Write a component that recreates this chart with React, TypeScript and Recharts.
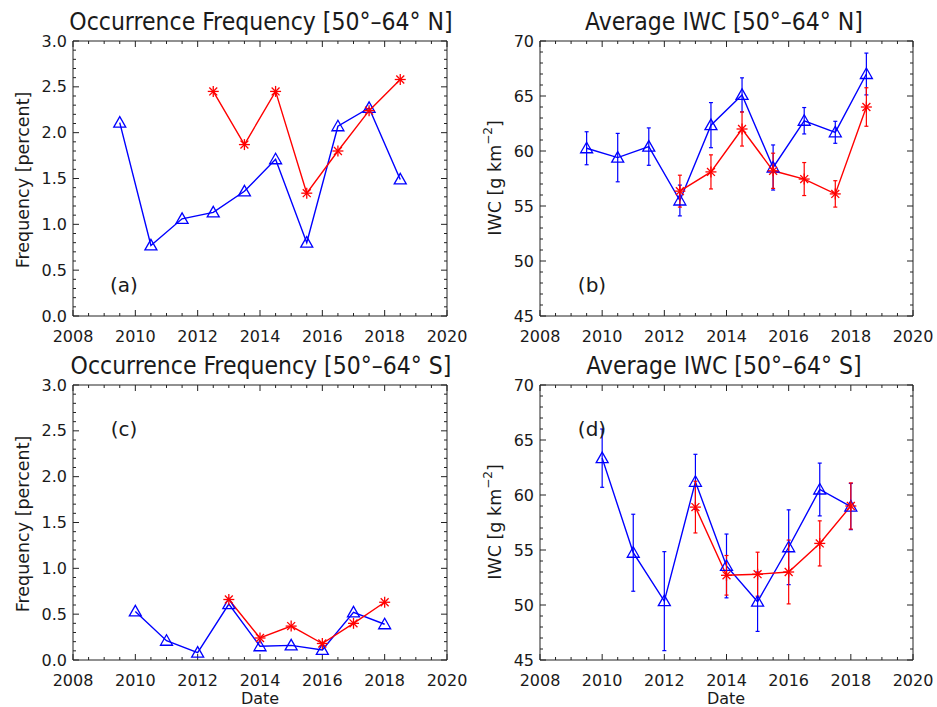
import React from 'react';
import { ComposedChart, Line, Scatter, XAxis, YAxis, ErrorBar, ReferenceArea } from 'recharts';

// Northern band: yearly points at mid-year
const YEARS_N = [2009.5, 2010.5, 2011.5, 2012.5, 2013.5, 2014.5, 2015.5, 2016.5, 2017.5, 2018.5];
const YEARS_N_RED = [2012.5, 2013.5, 2014.5, 2015.5, 2016.5, 2017.5, 2018.5];
// Southern band: points at the start of the year
const YEARS_S = [2010, 2011, 2012, 2013, 2014, 2015, 2016, 2017, 2018];
const YEARS_S_RED = [2013, 2014, 2015, 2016, 2017, 2018];

const FREQ_N_BLUE = [2.11, 0.77, 1.06, 1.13, 1.36, 1.71, 0.8, 2.07, 2.27, 1.49];
const FREQ_N_RED = [2.45, 1.87, 2.45, 1.34, 1.8, 2.24, 2.58];

const IWC_N_BLUE = [60.25, 59.4, 60.4, 55.5, 62.35, 65.1, 58.5, 62.75, 61.7, 67.0];
const IWC_N_BLUE_ERR = [1.5, 2.2, 1.7, 1.4, 2.05, 1.55, 2.05, 1.2, 1.0, 1.9];
const IWC_N_RED = [56.35, 58.1, 62.0, 58.2, 57.45, 56.1, 64.0];
const IWC_N_RED_ERR = [1.45, 1.55, 1.55, 1.6, 1.5, 1.2, 1.75];

const FREQ_S_BLUE = [0.53, 0.21, 0.08, 0.61, 0.15, 0.16, 0.11, 0.52, 0.39];
const FREQ_S_RED = [0.66, 0.24, 0.37, 0.18, 0.4, 0.63];

const IWC_S_BLUE = [63.35, 54.75, 50.35, 61.2, 53.55, 50.3, 55.25, 60.5, 58.95];
const IWC_S_BLUE_ERR = [2.65, 3.5, 4.5, 2.5, 2.9, 2.7, 3.4, 2.4, 2.1];
const IWC_S_RED = [58.9, 52.7, 52.8, 53.0, 55.6, 59.0];
const IWC_S_RED_ERR = [2.35, 1.8, 2.0, 2.9, 2.05, 2.1];

const X_LABELS = [2008, 2010, 2012, 2014, 2016, 2018, 2020];
const FREQ_LABELS = [0, 0.5, 1.0, 1.5, 2.0, 2.5, 3.0];
const IWC_LABELS = [45, 50, 55, 60, 65, 70];

const BLUE = '#0000ff';
const RED = '#ff0000';
const AXIS = '#222';
const TEXT = '#1a1a1a';
const FONT = "'DejaVu Sans', sans-serif";
const TITLE_FONT = "'DejaVu Sans Condensed', 'DejaVu Sans', sans-serif";

const H = 350;
const PLOT_TOP = 41;
const Y_AXIS_W = 73;
const X_AXIS_H = 34;
const MAJOR_LEN = 6;
const MINOR_LEN = 3;

// major ticks plus `sub`-1 minor ticks inside each major interval
const withMinor = (major: number[], sub: number) => {
  const out = major.map((t) => ({ t, major: true }));
  for (let i = 0; i < major.length - 1; i++) {
    const step = (major[i + 1] - major[i]) / sub;
    for (let k = 1; k < sub; k++) out.push({ t: Math.round((major[i] + k * step) * 1000) / 1000, major: false });
  }
  return out;
};

const zip = (xs: number[], vs: number[], es?: number[]) =>
  xs.map((year, i) => ({ year, v: vs[i], e: es ? es[i] : 0 }));

const Triangle = ({ cx, cy }: any) => (
  <polygon
    points={`${cx},${cy - 6} ${cx - 6},${cy + 4.5} ${cx + 6},${cy + 4.5}`}
    fill="none"
    stroke={BLUE}
    strokeWidth={1.3}
  />
);

const Asterisk = ({ cx, cy }: any) => {
  const r = 5.5;
  const d = r * 0.72;
  return (
    <g stroke={RED} strokeWidth={1.3}>
      <line x1={cx - r} y1={cy} x2={cx + r} y2={cy} />
      <line x1={cx} y1={cy - r} x2={cx} y2={cy + r} />
      <line x1={cx - d} y1={cy - d} x2={cx + d} y2={cy + d} />
      <line x1={cx - d} y1={cy + d} x2={cx + d} y2={cy - d} />
    </g>
  );
};

// inward tick mark drawn at a frame position
const tickShape = (dx: number, dy: number) => (p: any) => {
  const len = p.payload.major ? MAJOR_LEN : MINOR_LEN;
  return <path d={`M${p.cx},${p.cy}l${dx * len},${dy * len}`} stroke={AXIS} strokeWidth={1} fill="none" />;
};

interface PanelProps {
  left: number;
  top: number;
  width: number;
  rightGap: number;
  blue: { year: number; v: number; e: number }[];
  red: { year: number; v: number; e: number }[];
  yMajor: number[];
  ySub: number;
  fmt: (v: number) => string;
  errors?: boolean;
}

const Panel = ({ left, top, width, rightGap, blue, red, yMajor, ySub, fmt, errors }: PanelProps) => {
  const yDomain = [yMajor[0], yMajor[yMajor.length - 1]];
  const xDomain = [X_LABELS[0], X_LABELS[X_LABELS.length - 1]];
  const xAll = withMinor(X_LABELS, 4);
  const yAll = withMinor(yMajor, ySub);

  const bottomTicks = xAll.map(({ t, major }) => ({ year: t, v: yDomain[0], major }));
  const topTicks = xAll.map(({ t, major }) => ({ year: t, v: yDomain[1], major }));
  const leftTicks = yAll.map(({ t, major }) => ({ year: xDomain[0], v: t, major }));
  const rightTicks = yAll.map(({ t, major }) => ({ year: xDomain[1], v: t, major }));

  const bottomLabel = ({ x, y, payload }: any) => (
    <text x={x} y={y + 26} textAnchor="middle" fontSize={16} fontFamily={FONT} fill={TEXT}>
      {payload.value}
    </text>
  );
  const leftLabel = ({ x, y, payload }: any) => (
    <text x={x - 6} y={y} textAnchor="end" dominantBaseline="central" fontSize={16} fontFamily={FONT} fill={TEXT}>
      {fmt(payload.value)}
    </text>
  );

  return (
    <div style={{ position: 'absolute', left, top }}>
      <ComposedChart width={width} height={H} margin={{ top: PLOT_TOP, right: rightGap, bottom: 0, left: 0 }}>
        <XAxis
          type="number"
          dataKey="year"
          domain={xDomain}
          ticks={X_LABELS}
          interval={0}
          height={X_AXIS_H}
          tickSize={0}
          tickMargin={0}
          tickLine={false}
          axisLine={false}
          tick={bottomLabel}
        />
        <YAxis
          type="number"
          domain={yDomain}
          ticks={yMajor}
          interval={0}
          width={Y_AXIS_W}
          tickSize={0}
          tickMargin={0}
          tickLine={false}
          axisLine={false}
          tick={leftLabel}
        />
        <ReferenceArea
          x1={xDomain[0]}
          x2={xDomain[1]}
          y1={yDomain[0]}
          y2={yDomain[1]}
          fill="none"
          stroke={AXIS}
          strokeWidth={1}
          ifOverflow="visible"
        />
        <Scatter data={bottomTicks} dataKey="v" shape={tickShape(0, -1)} isAnimationActive={false} />
        <Scatter data={topTicks} dataKey="v" shape={tickShape(0, 1)} isAnimationActive={false} />
        <Scatter data={leftTicks} dataKey="v" shape={tickShape(1, 0)} isAnimationActive={false} />
        <Scatter data={rightTicks} dataKey="v" shape={tickShape(-1, 0)} isAnimationActive={false} />
        <Line
          data={blue}
          dataKey="v"
          type="linear"
          stroke={BLUE}
          strokeWidth={1.4}
          isAnimationActive={false}
          dot={(p: any) => <Triangle key={`bd-${p.index}`} cx={p.cx} cy={p.cy} />}
        >
          {errors && <ErrorBar dataKey="e" direction="y" width={2} stroke={BLUE} strokeWidth={1.2} />}
        </Line>
        <Line
          data={red}
          dataKey="v"
          type="linear"
          stroke={RED}
          strokeWidth={1.4}
          isAnimationActive={false}
          dot={(p: any) => <Asterisk key={`rd-${p.index}`} cx={p.cx} cy={p.cy} />}
        >
          {errors && <ErrorBar dataKey="e" direction="y" width={2} stroke={RED} strokeWidth={1.2} />}
        </Line>
      </ComposedChart>
    </div>
  );
};

const freqFmt = (v: number) => v.toFixed(1);
const iwcFmt = (v: number) => String(v);

const Title = ({ x, y, children }: any) => (
  <text x={x} y={y} textAnchor="middle" fontSize={24.5} fontFamily={TITLE_FONT} style={{ fontStretch: 'condensed' }} fill={TEXT}>
    {children}
  </text>
);

const AxisTitle = ({ x, y, children }: any) => (
  <text
    x={x}
    y={y}
    transform={`rotate(-90 ${x} ${y})`}
    textAnchor="middle"
    dominantBaseline="central"
    fontSize={17.5}
    fontFamily={FONT}
    fill={TEXT}
  >
    {children}
  </text>
);

const Tag = ({ x, y, children }: any) => (
  <text x={x} y={y} textAnchor="middle" dominantBaseline="central" fontSize={20} fontFamily={FONT} fill={TEXT}>
    {children}
  </text>
);

const IwcLabel = () => (
  <>
    IWC [g km<tspan dy={-7} fontSize={12}>−2</tspan>
    <tspan dy={7}>]</tspan>
  </>
);

export default function App() {
  return (
    <div style={{ position: 'absolute', left: 0, top: 0, width: 937, height: 707, background: '#fff' }}>
      <Panel
        left={0}
        top={0}
        width={468}
        rightGap={21}
        blue={zip(YEARS_N, FREQ_N_BLUE)}
        red={zip(YEARS_N_RED, FREQ_N_RED)}
        yMajor={FREQ_LABELS}
        ySub={5}
        fmt={freqFmt}
      />
      <Panel
        left={467}
        top={0}
        width={468}
        rightGap={22}
        blue={zip(YEARS_N, IWC_N_BLUE, IWC_N_BLUE_ERR)}
        red={zip(YEARS_N_RED, IWC_N_RED, IWC_N_RED_ERR)}
        yMajor={IWC_LABELS}
        ySub={5}
        fmt={iwcFmt}
        errors
      />
      <Panel
        left={0}
        top={344}
        width={468}
        rightGap={21}
        blue={zip(YEARS_S, FREQ_S_BLUE)}
        red={zip(YEARS_S_RED, FREQ_S_RED)}
        yMajor={FREQ_LABELS}
        ySub={5}
        fmt={freqFmt}
      />
      <Panel
        left={467}
        top={344}
        width={468}
        rightGap={22}
        blue={zip(YEARS_S, IWC_S_BLUE, IWC_S_BLUE_ERR)}
        red={zip(YEARS_S_RED, IWC_S_RED, IWC_S_RED_ERR)}
        yMajor={IWC_LABELS}
        ySub={5}
        fmt={iwcFmt}
        errors
      />
      <svg width={937} height={707} style={{ position: 'absolute', left: 0, top: 0, pointerEvents: 'none' }}>
        <Title x={261} y={30}>Occurrence Frequency [50°–64° N]</Title>
        <Title x={724} y={30}>Average IWC [50°–64° N]</Title>
        <Title x={261} y={374}>Occurrence Frequency [50°–64° S]</Title>
        <Title x={724} y={374}>Average IWC [50°–64° S]</Title>
        <AxisTitle x={23} y={180}>Frequency [percent]</AxisTitle>
        <AxisTitle x={23} y={524}>Frequency [percent]</AxisTitle>
        <AxisTitle x={495} y={178}><IwcLabel /></AxisTitle>
        <AxisTitle x={495} y={522}><IwcLabel /></AxisTitle>
        <Tag x={124} y={285}>(a)</Tag>
        <Tag x={592} y={285}>(b)</Tag>
        <Tag x={124} y={429}>(c)</Tag>
        <Tag x={592} y={429}>(d)</Tag>
        <text x={260} y={704} textAnchor="middle" fontSize={16} fontFamily={FONT} fill={TEXT}>Date</text>
        <text x={726} y={704} textAnchor="middle" fontSize={16} fontFamily={FONT} fill={TEXT}>Date</text>
      </svg>
    </div>
  );
}
